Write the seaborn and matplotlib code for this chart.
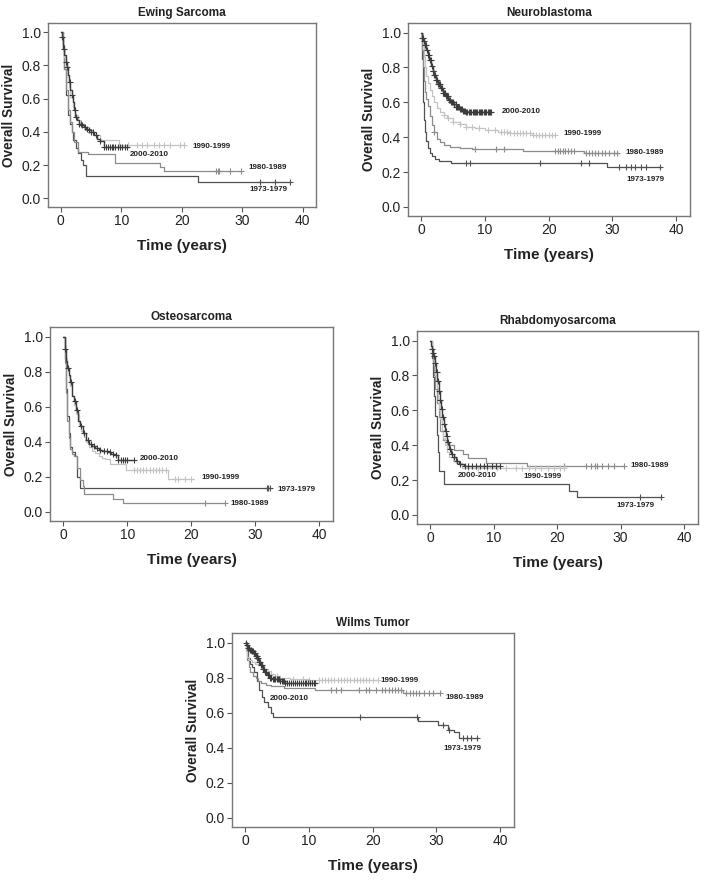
import numpy as np
import matplotlib
matplotlib.use("Agg")
import matplotlib.pyplot as plt
import seaborn as sns

sns.set_style("ticks")
plt.rcParams['font.family'] = ['Liberation Sans', 'DejaVu Sans']

PERIODS = ["2000-2010", "1990-1999", "1980-1989", "1973-1979"]
COLORS = {"2000-2010": "#3c3c3c", "1990-1999": "#c4c4c4",
          "1980-1989": "#8c8c8c", "1973-1979": "#505050"}

# ---------------- Ewing Sarcoma ----------------
EW_00_T = [0, 0.15, 0.3, 0.45, 0.6, 0.8, 1.0, 1.2, 1.4, 1.6, 1.8, 2.0, 2.2, 2.4, 2.7, 3.0, 3.4, 3.8, 4.2, 4.6, 5.0, 5.5, 6.0, 6.5, 7.1, 11.0]
EW_00_S = [1, 0.97, 0.94, 0.90, 0.86, 0.82, 0.79, 0.74, 0.70, 0.65, 0.62, 0.58, 0.53, 0.49, 0.47, 0.45, 0.44, 0.43, 0.42, 0.41, 0.40, 0.38, 0.36, 0.345, 0.31, 0.31]
EW_00_C = [0.2, 0.5, 0.8, 1.1, 1.5, 1.9, 2.3, 2.6, 3.0, 3.3, 3.6, 4.0, 4.3, 4.7, 5.0, 5.4, 5.9, 6.5, 7.2, 7.5, 7.8, 8.1, 8.4, 8.7, 9.0, 9.4, 9.8, 10.2, 10.6, 11.0]
EW_90_T = [0, 0.2, 0.4, 0.6, 0.8, 1.0, 1.3, 1.6, 2.0, 2.4, 2.8, 3.3, 4.0, 5.0, 5.8, 6.5, 9.6, 20.3]
EW_90_S = [1, 0.96, 0.91, 0.85, 0.79, 0.73, 0.67, 0.61, 0.55, 0.50, 0.47, 0.44, 0.42, 0.40, 0.38, 0.35, 0.32, 0.32]
EW_90_C = [11.2, 12.6, 13.5, 14.2, 15.5, 16.3, 17.0, 18.0, 19.8, 20.3]
EW_80_T = [0, 0.3, 0.6, 0.9, 1.2, 1.5, 1.8, 2.2, 2.8, 4.5, 9.0, 16.4, 17.0, 29.8]
EW_80_S = [1, 0.90, 0.78, 0.65, 0.53, 0.46, 0.40, 0.34, 0.28, 0.265, 0.215, 0.19, 0.165, 0.165]
EW_80_C = [25.6, 26.0, 26.2, 28.0, 29.8]
EW_73_T = [0, 0.3, 0.6, 0.9, 1.2, 1.5, 1.8, 2.1, 2.5, 2.9, 3.3, 3.7, 4.2, 22.7, 37.9]
EW_73_S = [1, 0.92, 0.78, 0.62, 0.50, 0.45, 0.40, 0.35, 0.30, 0.27, 0.23, 0.20, 0.135, 0.10, 0.10]
EW_73_C = [33.0, 35.5, 37.9]
EW_LAB = {"1990-1999": (21.8, 0.314), "2000-2010": (11.5, 0.264),
          "1980-1989": (31.1, 0.184), "1973-1979": (31.2, 0.054)}

# ---------------- Neuroblastoma ----------------
NB_00_T = [0, 0.1, 0.3, 0.5, 0.75, 1.0, 1.25, 1.5, 1.75, 2.0, 2.3, 2.6, 3.0, 3.4, 3.8, 4.2, 4.6, 5.0, 5.5, 6.0, 6.5, 7.0, 11.0]
NB_00_S = [1, 0.97, 0.95, 0.93, 0.90, 0.87, 0.84, 0.81, 0.78, 0.755, 0.73, 0.705, 0.68, 0.655, 0.635, 0.615, 0.60, 0.588, 0.575, 0.563, 0.553, 0.545, 0.545]
NB_00_C = [0.1, 0.22, 0.4, 0.53, 0.7, 0.86, 1.0, 1.17, 1.3, 1.46, 1.6, 1.77, 1.9, 2.06, 2.2, 2.37, 2.5, 2.66, 2.8, 2.97, 3.1, 3.26, 3.4, 3.57, 3.7, 3.86, 4.0, 4.17, 4.3, 4.46, 4.6, 4.77, 4.9, 5.06, 5.2, 5.37, 5.5, 5.66, 5.8, 5.97, 6.1, 6.26, 6.4, 6.57, 6.7, 6.86, 7.0, 7.2, 7.45, 7.6, 7.8, 8.05, 8.2, 8.4, 8.65, 8.8, 9.0, 9.25, 9.4, 9.6, 9.85, 10.0, 10.2, 10.45, 10.6, 10.8, 11.0]
NB_90_T = [0, 0.2, 0.4, 0.6, 0.8, 1.0, 1.3, 1.6, 2.0, 2.5, 3.0, 3.5, 4.0, 5.0, 6.0, 7.0, 8.5, 10.0, 12.0, 14.0, 17.5, 21.0]
NB_90_S = [1, 0.93, 0.86, 0.80, 0.75, 0.71, 0.67, 0.635, 0.60, 0.57, 0.545, 0.525, 0.51, 0.49, 0.475, 0.46, 0.45, 0.44, 0.43, 0.425, 0.415, 0.415]
NB_90_C = [3.5, 4.2, 5.0, 6.0, 7.0, 8.0, 9.0, 10.5, 11.5, 12.5, 13.0, 13.5, 14.0, 14.5, 15.0, 15.5, 16.0, 16.5, 17.0, 17.5, 18.0, 18.5, 19.0, 19.5, 20.0, 20.5, 21.0]
NB_80_T = [0, 0.15, 0.3, 0.45, 0.6, 0.8, 1.0, 1.3, 1.6, 2.0, 2.5, 3.0, 3.5, 4.5, 6.0, 8.0, 12.0, 16.0, 25.5, 31.0]
NB_80_S = [1, 0.90, 0.80, 0.72, 0.66, 0.62, 0.58, 0.52, 0.47, 0.43, 0.39, 0.37, 0.355, 0.345, 0.34, 0.335, 0.33, 0.32, 0.31, 0.31]
NB_80_C = [2.0, 8.5, 11.8, 13.0, 21.0, 21.5, 21.8, 22.2, 22.6, 23.0, 23.5, 24.0, 25.8, 26.3, 26.8, 27.3, 27.8, 28.3, 28.8, 29.5, 30.2, 30.8]
NB_73_T = [0, 0.1, 0.2, 0.3, 0.45, 0.6, 0.8, 1.0, 1.3, 1.7, 2.2, 2.7, 4.6, 29.2, 37.7]
NB_73_S = [1, 0.85, 0.72, 0.60, 0.50, 0.43, 0.38, 0.34, 0.31, 0.29, 0.275, 0.265, 0.25, 0.23, 0.23]
NB_73_C = [7.0, 7.7, 18.7, 25.0, 26.3, 31.0, 32.2, 33.0, 33.5, 34.5, 35.3, 37.5]
NB_LAB = {"2000-2010": (12.7, 0.549), "1990-1999": (22.4, 0.424),
          "1980-1989": (32.0, 0.31), "1973-1979": (32.2, 0.159)}

# ---------------- Osteosarcoma ----------------
OS_00_T = [0, 0.2, 0.4, 0.6, 0.8, 1.0, 1.3, 1.6, 2.0, 2.3, 2.6, 3.0, 3.5, 4.0, 4.5, 5.0, 5.5, 6.0, 6.5, 7.0, 7.5, 8.0, 8.5, 11.0]
OS_00_S = [1, 0.93, 0.86, 0.82, 0.78, 0.74, 0.66, 0.63, 0.58, 0.52, 0.49, 0.45, 0.41, 0.385, 0.375, 0.365, 0.355, 0.35, 0.345, 0.34, 0.33, 0.325, 0.295, 0.295]
OS_00_C = [0.3, 0.7, 1.2, 1.8, 2.2, 2.8, 3.3, 3.8, 4.3, 4.8, 5.3, 5.8, 6.3, 6.8, 7.3, 7.8, 8.2, 8.6, 9.0, 9.3, 9.6, 10.0, 11.0]
OS_90_T = [0, 0.2, 0.4, 0.6, 0.8, 1.0, 1.3, 1.6, 2.0, 2.4, 2.8, 3.2, 3.6, 4.0, 4.5, 5.0, 5.5, 6.0, 6.5, 7.3, 9.8, 16.3, 20.5]
OS_90_S = [1, 0.95, 0.88, 0.82, 0.77, 0.72, 0.66, 0.61, 0.56, 0.50, 0.46, 0.43, 0.40, 0.37, 0.35, 0.335, 0.32, 0.31, 0.30, 0.275, 0.24, 0.19, 0.19]
OS_90_C = [11.0, 11.5, 12.0, 12.5, 13.0, 13.5, 14.0, 14.5, 15.0, 15.5, 16.0, 17.5, 18.0, 19.0, 20.0]
OS_80_T = [0, 0.2, 0.4, 0.6, 0.8, 1.0, 1.3, 1.7, 2.1, 2.6, 3.0, 3.3, 7.7, 9.3, 25.3]
OS_80_S = [1, 0.85, 0.68, 0.52, 0.42, 0.36, 0.33, 0.32, 0.25, 0.18, 0.15, 0.10, 0.075, 0.05, 0.05]
OS_80_C = [22.2, 25.3]
OS_73_T = [0, 0.2, 0.4, 0.6, 0.8, 1.0, 1.4, 1.8, 2.1, 2.6, 32.3]
OS_73_S = [1, 0.87, 0.70, 0.55, 0.45, 0.37, 0.34, 0.32, 0.20, 0.135, 0.135]
OS_73_C = [31.8, 32.0, 32.3]
OS_LAB = {"2000-2010": (12.0, 0.307), "1990-1999": (21.6, 0.198),
          "1973-1979": (33.5, 0.127), "1980-1989": (26.1, 0.05)}

# ---------------- Rhabdomyosarcoma ----------------
RH_00_T = [0, 0.1, 0.2, 0.35, 0.5, 0.7, 0.9, 1.1, 1.3, 1.5, 1.7, 1.9, 2.1, 2.3, 2.5, 2.7, 3.0, 3.3, 3.7, 4.1, 4.6, 5.3, 11.0]
RH_00_S = [1, 0.97, 0.95, 0.93, 0.91, 0.87, 0.82, 0.77, 0.71, 0.66, 0.61, 0.56, 0.52, 0.48, 0.45, 0.42, 0.38, 0.35, 0.33, 0.31, 0.295, 0.28, 0.28]
RH_00_C = [0.2, 0.4, 0.6, 0.8, 1.0, 1.2, 1.4, 1.6, 1.8, 2.0, 2.2, 2.4, 2.6, 2.8, 3.1, 3.4, 3.8, 4.2, 4.7, 5.5, 6.0, 6.5, 7.2, 7.8, 8.4, 9.0, 9.7, 10.3, 11.0]
RH_90_T = [0, 0.2, 0.4, 0.6, 0.8, 1.0, 1.2, 1.4, 1.6, 1.8, 2.0, 2.3, 2.6, 3.0, 3.5, 4.0, 5.0, 21.0]
RH_90_S = [1, 0.96, 0.92, 0.86, 0.80, 0.73, 0.66, 0.60, 0.55, 0.49, 0.44, 0.40, 0.36, 0.33, 0.31, 0.30, 0.27, 0.27]
RH_90_C = [6.0, 7.5, 9.0, 10.5, 12.0, 13.5, 14.5, 15.5, 16.5, 17.5, 18.5, 19.5, 20.5, 21.0]
RH_80_T = [0, 0.2, 0.4, 0.6, 0.8, 1.0, 1.3, 1.6, 2.0, 2.6, 3.7, 5.2, 6.0, 8.7, 15.2, 30.5]
RH_80_S = [1, 0.95, 0.88, 0.80, 0.72, 0.64, 0.56, 0.48, 0.43, 0.40, 0.37, 0.35, 0.325, 0.30, 0.28, 0.28]
RH_80_C = [21.0, 24.5, 25.3, 26.0, 26.3, 27.0, 28.0, 29.0, 30.5]
RH_73_T = [0, 0.2, 0.4, 0.6, 0.8, 1.0, 1.2, 1.4, 2.1, 21.8, 23.1, 36.4]
RH_73_S = [1, 0.90, 0.79, 0.68, 0.57, 0.46, 0.36, 0.25, 0.18, 0.14, 0.105, 0.105]
RH_73_C = [33.0, 36.3]
RH_LAB = {"1980-1989": (31.5, 0.284), "2000-2010": (4.3, 0.225),
          "1990-1999": (14.7, 0.221), "1973-1979": (29.4, 0.055)}

# ---------------- Wilms Tumor ----------------
WT_00_T = [0, 0.2, 0.4, 0.6, 0.9, 1.2, 1.5, 1.8, 2.1, 2.4, 2.7, 3.0, 3.4, 3.8, 4.3, 4.8, 5.5, 6.3, 11.0]
WT_00_S = [1, 0.985, 0.97, 0.96, 0.95, 0.94, 0.925, 0.91, 0.89, 0.87, 0.85, 0.83, 0.815, 0.80, 0.795, 0.79, 0.78, 0.77, 0.77]
WT_00_C = [0.1, 0.25, 0.4, 0.55, 0.7, 0.85, 1.0, 1.15, 1.3, 1.45, 1.6, 1.75, 1.9, 2.05, 2.2, 2.35, 2.5, 2.65, 2.8, 2.95, 3.1, 3.3, 3.5, 3.7, 3.9, 4.1, 4.3, 4.5, 4.7, 4.9, 5.1, 5.3, 5.5, 5.7, 5.9, 6.1, 6.3, 6.6, 6.9, 7.2, 7.5, 7.8, 8.1, 8.4, 8.7, 9.0, 9.3, 9.6, 9.9, 10.2, 10.5, 10.8, 11.0]
WT_90_T = [0, 0.1, 0.3, 0.6, 1.0, 1.5, 2.0, 2.5, 3.0, 3.5, 4.0, 4.6, 5.5, 7.0, 10.0, 20.8]
WT_90_S = [1, 0.95, 0.92, 0.90, 0.89, 0.88, 0.87, 0.86, 0.85, 0.84, 0.82, 0.81, 0.80, 0.79, 0.785, 0.785]
WT_90_C = [5.0, 7.5, 9.0, 10.0, 11.5, 12.0, 12.5, 13.0, 13.5, 14.0, 14.5, 15.0, 15.5, 16.0, 16.5, 17.0, 17.5, 18.0, 18.5, 19.0, 19.5, 20.0, 20.8]
WT_80_T = [0, 0.1, 0.3, 0.5, 0.8, 1.2, 1.6, 2.0, 2.5, 3.2, 4.0, 6.0, 11.0, 24.8, 30.7]
WT_80_S = [1, 0.95, 0.90, 0.86, 0.83, 0.81, 0.80, 0.78, 0.77, 0.76, 0.75, 0.74, 0.73, 0.71, 0.71]
WT_80_C = [13.5, 14.2, 15.0, 17.8, 19.0, 19.5, 20.5, 21.5, 22.0, 22.5, 23.0, 23.5, 24.0, 24.5, 25.3, 25.8, 26.3, 26.8, 27.3, 28.0, 28.8, 29.5, 30.5]
WT_73_T = [0, 0.2, 0.4, 0.7, 1.0, 1.4, 1.8, 2.2, 2.6, 3.0, 3.5, 4.0, 4.4, 27.1, 30.3, 31.9, 32.8, 33.6, 36.6]
WT_73_S = [1, 0.95, 0.91, 0.88, 0.86, 0.83, 0.78, 0.73, 0.69, 0.66, 0.63, 0.60, 0.574, 0.555, 0.528, 0.50, 0.49, 0.455, 0.455]
WT_73_C = [18.0, 27.0, 31.0, 32.0, 34.2, 34.8, 35.4, 36.4]
WT_LAB = {"1990-1999": (21.3, 0.786), "2000-2010": (3.9, 0.684),
          "1980-1989": (31.5, 0.688), "1973-1979": (31.1, 0.398)}

PANELS = [
    ("Ewing Sarcoma", [48, 23, 316, 207],
     {"2000-2010": (EW_00_T, EW_00_S, EW_00_C), "1990-1999": (EW_90_T, EW_90_S, EW_90_C),
      "1980-1989": (EW_80_T, EW_80_S, EW_80_C), "1973-1979": (EW_73_T, EW_73_S, EW_73_C)}, EW_LAB),
    ("Neuroblastoma", [408, 23, 690, 216],
     {"2000-2010": (NB_00_T, NB_00_S, NB_00_C), "1990-1999": (NB_90_T, NB_90_S, NB_90_C),
      "1980-1989": (NB_80_T, NB_80_S, NB_80_C), "1973-1979": (NB_73_T, NB_73_S, NB_73_C)}, NB_LAB),
    ("Osteosarcoma", [50, 327, 333, 521],
     {"2000-2010": (OS_00_T, OS_00_S, OS_00_C), "1990-1999": (OS_90_T, OS_90_S, OS_90_C),
      "1980-1989": (OS_80_T, OS_80_S, OS_80_C), "1973-1979": (OS_73_T, OS_73_S, OS_73_C)}, OS_LAB),
    ("Rhabdomyosarcoma", [417, 331, 698, 524],
     {"2000-2010": (RH_00_T, RH_00_S, RH_00_C), "1990-1999": (RH_90_T, RH_90_S, RH_90_C),
      "1980-1989": (RH_80_T, RH_80_S, RH_80_C), "1973-1979": (RH_73_T, RH_73_S, RH_73_C)}, RH_LAB),
    ("Wilms Tumor", [232, 633, 514, 827],
     {"2000-2010": (WT_00_T, WT_00_S, WT_00_C), "1990-1999": (WT_90_T, WT_90_S, WT_90_C),
      "1980-1989": (WT_80_T, WT_80_S, WT_80_C), "1973-1979": (WT_73_T, WT_73_S, WT_73_C)}, WT_LAB),
]

W, H = 705, 880
fig = plt.figure(figsize=(W / 100, H / 100), dpi=100)

DRAW_ORDER = ["1973-1979", "1980-1989", "1990-1999", "2000-2010"]

for title, (l, t, r, b), series, labels in PANELS:
    ax = fig.add_axes([l / W, 1 - b / H, (r - l) / W, (b - t) / H])
    for per in DRAW_ORDER:
        T, S, C = series[per]
        T = np.asarray(T, float)
        S = np.asarray(S, float)
        lw = 1.0 if per == "2000-2010" else 0.9
        sns.lineplot(x=T, y=S, ax=ax, color=COLORS[per], lw=lw,
                     drawstyle="steps-post", estimator=None, sort=True)
        C = np.asarray(C, float)
        idx = np.clip(np.searchsorted(T, C, side="right") - 1, 0, len(S) - 1)
        sns.scatterplot(x=C, y=S[idx], ax=ax, marker="+", s=22,
                        color=COLORS[per], linewidth=0.8, zorder=3)
    for per, (x, y) in labels.items():
        ax.text(x, y, per, fontsize=5.8, fontweight="bold", color="#222222",
                ha="left", va="center")
    ax.set_xlim(-2.1, 42.2)
    ax.set_ylim(-0.052, 1.055)
    ax.set_xticks([0, 10, 20, 30, 40])
    ax.set_yticks([0.0, 0.2, 0.4, 0.6, 0.8, 1.0])
    ax.set_yticklabels(["0.0", "0.2", "0.4", "0.6", "0.8", "1.0"])
    ax.tick_params(axis="both", labelsize=10, length=3.5, width=0.8,
                   color="#555555", labelcolor="#222222", pad=1.5)
    for sp in ax.spines.values():
        sp.set_visible(True)
        sp.set_color("#777777")
        sp.set_linewidth(1.0)
    ax.set_title(title, fontsize=8.5, fontweight="bold", color="#222222", pad=5)
    ax.set_xlabel("Time (years)", fontsize=11, fontweight="bold", color="#222222", labelpad=8)
    ax.set_ylabel("Overall Survival", fontsize=9.8, fontweight="bold", color="#222222", labelpad=4)

fig.savefig("out.png", dpi=100, facecolor="white")
